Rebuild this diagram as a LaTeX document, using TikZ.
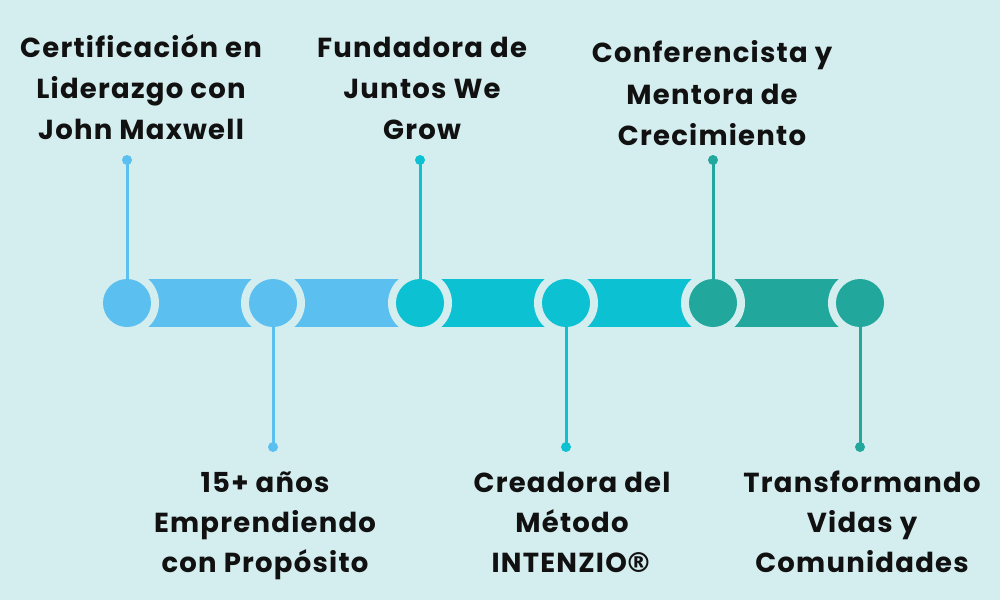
\documentclass[tikz,border=0pt]{standalone}
\usepackage{fontspec}
\setmainfont{Poppins}[LetterSpace=4.5]
\newfontfamily\regfont{DejaVu Sans}
\definecolor{bg}{HTML}{D4EDEF}
\definecolor{cblue}{HTML}{5BC0EF}
\definecolor{ccyan}{HTML}{0CC1D2}
\definecolor{cteal}{HTML}{22A79C}
\definecolor{ctext}{HTML}{111111}
\tikzset{
  lbl/.style={font=\bfseries\fontsize{27.5}{41}\selectfont, text=ctext, inner sep=0pt, anchor=base},
  ring/.style={circle, fill=bg, minimum size=64pt, inner sep=0pt},
  dotc/.style={circle, minimum size=48pt, inner sep=0pt},
  tip/.style={circle, minimum size=10pt, inner sep=0pt},
  stem/.style={line width=3pt}
}
\begin{document}
\begin{tikzpicture}[x=1pt,y=-1pt]
\fill[bg] (0,0) rectangle (1000,600);
\useasboundingbox (0,0) rectangle (1000,600);
% bar segments
\fill[cblue] (127,279) rectangle (420,327);
\fill[ccyan] (420,279) rectangle (713,327);
\fill[cteal] (713,279) rectangle (860,327);
% rings
\foreach \x/\n in {127/1,273/2,420/3,566/4,713/5,860/6}
  \node[ring] (r\n) at (\x,303) {};
% tips
\node[tip, fill=cblue] (t1) at (127,160) {};
\node[tip, fill=cblue] (t2) at (273,447) {};
\node[tip, fill=ccyan] (t3) at (420,160) {};
\node[tip, fill=ccyan] (t4) at (566,447) {};
\node[tip, fill=cteal] (t5) at (713,160) {};
\node[tip, fill=cteal] (t6) at (860,447) {};
% circles
\node[dotc, fill=cblue] (c1) at (127,303) {};
\node[dotc, fill=cblue] (c2) at (273,303) {};
\node[dotc, fill=ccyan] (c3) at (420,303) {};
\node[dotc, fill=ccyan] (c4) at (566,303) {};
\node[dotc, fill=cteal] (c5) at (713,303) {};
\node[dotc, fill=cteal] (c6) at (860,303) {};
% stems
\draw[stem, cblue] (t1.center) -- (c1.center);
\draw[stem, cblue] (t2.center) -- (c2.center);
\draw[stem, ccyan] (t3.center) -- (c3.center);
\draw[stem, ccyan] (t4.center) -- (c4.center);
\draw[stem, cteal] (t5.center) -- (c5.center);
\draw[stem, cteal] (t6.center) -- (c6.center);
% labels
\node[lbl] (l1a) at (141,57) {Certificación en};
\node[lbl] (l1b) at (141,98) {Liderazgo con};
\node[lbl] (l1c) at (141,139) {John Maxwell};
\node[lbl] (l3a) at (422,57) {Fundadora de};
\node[lbl] (l3b) at (422,98) {Juntos We};
\node[lbl] (l3c) at (422,139) {Grow};
\node[lbl] (l5a) at (712,62) {Conferencista y};
\node[lbl] (l5b) at (712,104) {Mentora de};
\node[lbl] (l5c) at (712,145) {Crecimiento};
\node[lbl] (l2a) at (265,492) {15+ años};
\node[lbl] (l2b) at (265,532) {Emprendiendo};
\node[lbl] (l2c) at (265,572) {con Propósito};
\node[lbl] (l4a) at (572,492) {Creadora del};
\node[lbl] (l4b) at (572,532) {Método};
\node[lbl] (l4c) at (572,572) {INTENZIO\kern-2pt{\regfont\bfseries ®}};
\node[lbl] (l6a) at (862,492) {Transformando};
\node[lbl] (l6b) at (862,532) {Vidas y};
\node[lbl] (l6c) at (862,572) {Comunidades};
\end{tikzpicture}
\end{document}
